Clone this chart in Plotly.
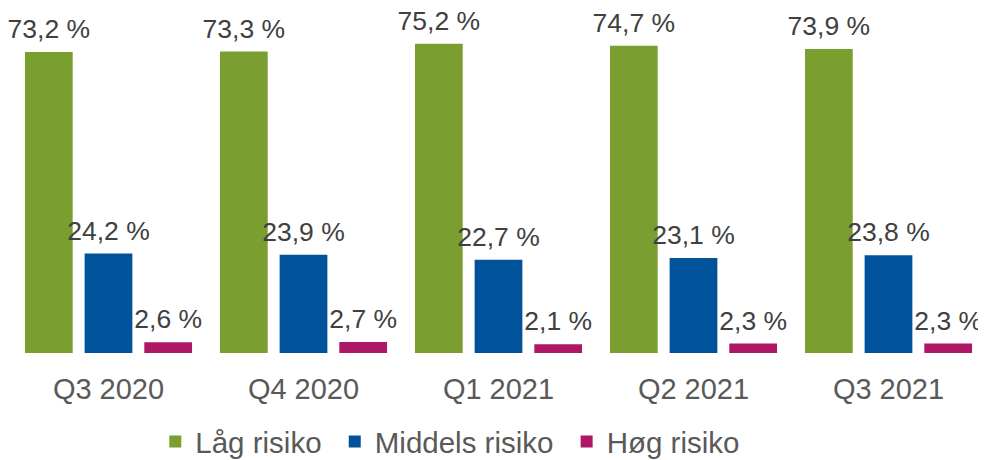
import plotly.graph_objects as go

quarters = ["Q3 2020", "Q4 2020", "Q1 2021", "Q2 2021", "Q3 2021"]
lav = [73.2, 73.3, 75.2, 74.7, 73.9]
middels = [24.2, 23.9, 22.7, 23.1, 23.8]
hoy = [2.6, 2.7, 2.1, 2.3, 2.3]

series = [
    ("Låg risiko", lav, "#7a9e2f"),
    ("Middels risiko", middels, "#00539b"),
    ("Høg risiko", hoy, "#ad1765"),
]

font = "Liberation Sans, Arial, sans-serif"
pad = "\u00a0"

fig = go.Figure()
for name, vals, col in series:
    fig.add_trace(go.Bar(
        x=quarters, y=vals, name=name + pad, offsetgroup=name,
        marker=dict(color=col, line=dict(width=0)),
    ))
# value labels as invisible-marker scatter so they sit a bit above the bars
for name, vals, col in series:
    fig.add_trace(go.Scatter(
        x=quarters, y=vals, mode="markers+text", showlegend=False,
        offsetgroup=name, hoverinfo="skip",
        marker=dict(size=10, opacity=0),
        text=[f"{v:.1f} %".replace(".", ",") for v in vals],
        textposition="top center", cliponaxis=False,
        textfont=dict(family=font, size=26.5, color="#404040"),
    ))

fig.update_layout(
    width=978, height=452,
    margin=dict(l=3, r=0, t=0, b=107),
    barmode="group", bargap=0.082, bargroupgap=0.2,
    scattermode="group", scattergap=0.082,
    plot_bgcolor="white", paper_bgcolor="white",
    showlegend=True,
    legend=dict(orientation="h", x=0.148, xanchor="left",
                yref="container", y=0.04, yanchor="middle",
                font=dict(family=font, size=29.5, color="#595959"),
                itemwidth=30, traceorder="normal"),
    xaxis=dict(showgrid=False, showline=False, ticks="", ticklabelstandoff=16,
               tickfont=dict(family=font, size=29, color="#595959")),
    yaxis=dict(range=[0, 83.9], visible=False),
)

fig.write_html("out.html")
